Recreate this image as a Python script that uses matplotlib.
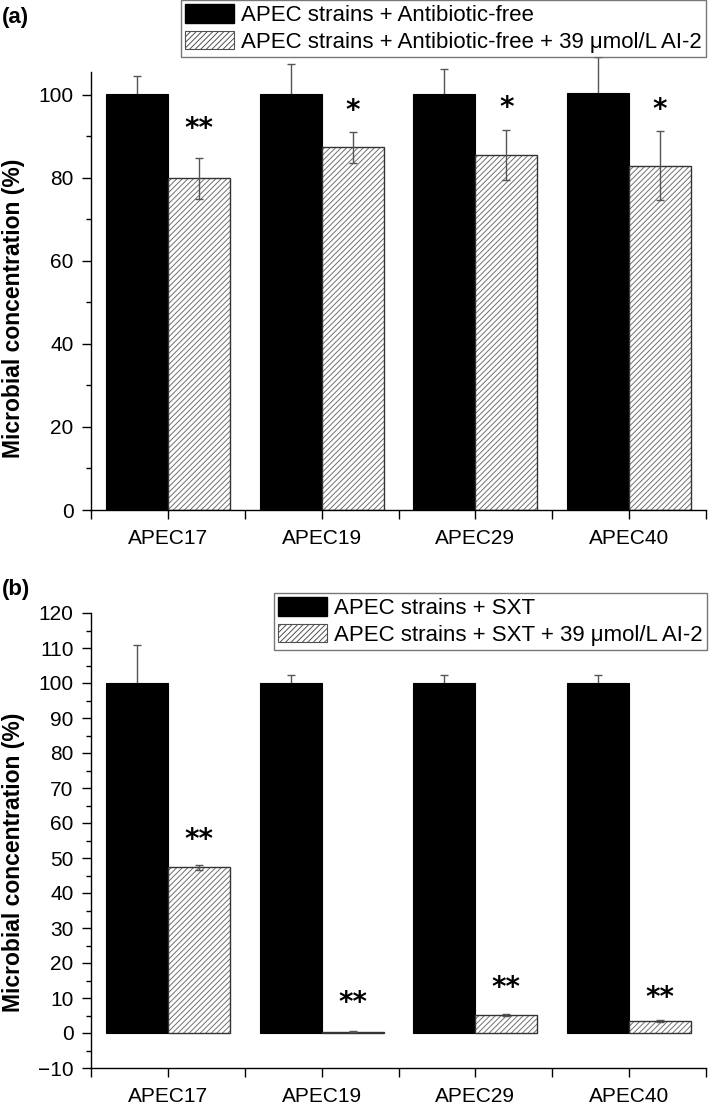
import numpy as np
import matplotlib
matplotlib.use("Agg")
import matplotlib.pyplot as plt
from matplotlib.patches import Patch

plt.rcParams['font.family'] = ['Liberation Sans', 'DejaVu Sans']
plt.rcParams['hatch.linewidth'] = 0.7

STRAINS = ["APEC17", "APEC19", "APEC29", "APEC40"]

# panel (a): antibiotic-free
A_CTRL = [100.3, 100.1, 100.2, 100.4]
A_CTRL_ERR = [4.2, 7.3, 6.1, 8.6]
A_AI2 = [79.9, 87.4, 85.6, 82.9]
A_AI2_ERR = [5.0, 3.7, 6.0, 8.3]
A_STARS = ["**", "*", "*", "*"]
A_LABELS = ["APEC strains + Antibiotic-free",
            "APEC strains + Antibiotic-free + 39 \u03bcmol/L AI-2"]

# panel (b): SXT
B_CTRL = [100.0, 100.0, 100.0, 100.0]
B_CTRL_ERR = [10.9, 2.2, 2.2, 2.2]
B_AI2 = [47.3, 0.4, 5.2, 3.4]
B_AI2_ERR = [0.7, 0.1, 0.3, 0.3]
B_STARS = ["**", "**", "**", "**"]
B_LABELS = ["APEC strains + SXT",
            "APEC strains + SXT + 39 \u03bcmol/L AI-2"]

W, H = 709, 1105
BAR_W = 0.404
ERR_COLOR = "#555555"
HATCH = "//////"
HATCH_COLOR = "#707070"
EDGE = "#333333"


def draw_panel(ax, ctrl, ctrl_err, ai2, ai2_err, stars, star_y, ylim, major, minor):
    x = np.arange(len(STRAINS))
    ax.bar(x - BAR_W / 2, ctrl, BAR_W, color="black", edgecolor="black", lw=0.8, zorder=2)
    # hatch drawn in a lighter grey, outline drawn on top in dark grey
    ax.bar(x + BAR_W / 2, ai2, BAR_W, color="white", edgecolor=HATCH_COLOR,
           hatch=HATCH, lw=0, zorder=2)
    ax.bar(x + BAR_W / 2, ai2, BAR_W, fill=False, edgecolor=EDGE, lw=1.0, zorder=2.1)
    # control error bars sit behind the black bars, so only the upper half shows
    eb1 = ax.errorbar(x - BAR_W / 2, ctrl, yerr=ctrl_err, fmt="none", ecolor=ERR_COLOR,
                      elinewidth=1.0, capsize=3, capthick=1.0, zorder=1)
    eb2 = ax.errorbar(x + BAR_W / 2, ai2, yerr=ai2_err, fmt="none", ecolor=ERR_COLOR,
                      elinewidth=1.0, capsize=3, capthick=1.0, zorder=3)
    for eb in (eb1, eb2):
        for art in eb.lines[1] + eb.lines[2]:
            art.set_clip_on(False)
    for xi, s, sy in zip(x, stars, star_y):
        ax.text(xi + BAR_W / 2, sy, s, ha="center", va="center", fontsize=20,
                fontweight="bold", family="DejaVu Sans")

    ax.set_xlim(-0.5, len(STRAINS) - 0.5)
    ax.set_ylim(*ylim)
    ax.set_xticks(np.arange(-0.5, len(STRAINS), 0.5))
    ax.set_xticklabels(["" if i % 2 == 0 else STRAINS[i // 2]
                        for i in range(2 * len(STRAINS) + 1)])
    ax.set_yticks(np.arange(ylim[0], ylim[1] + 0.1, major))
    ax.set_yticks(np.arange(ylim[0], ylim[1] + 0.1, minor), minor=True)
    ax.tick_params(axis="both", which="major", direction="out", length=6.5, width=1,
                   labelsize=15)
    ax.tick_params(axis="y", which="major", pad=6)
    ax.tick_params(axis="x", which="major", pad=7)
    ax.tick_params(axis="y", which="minor", direction="out", length=3.5, width=1)
    for side in ["top", "right"]:
        ax.spines[side].set_visible(False)
    for side in ["left", "bottom"]:
        ax.spines[side].set_linewidth(1)


fig = plt.figure(figsize=(W / 100, H / 100), dpi=100)
left, width = 91 / W, 615 / W

ax_a = fig.add_axes([left, 1 - 510 / H, width, 438 / H])
draw_panel(ax_a, A_CTRL, A_CTRL_ERR, A_AI2, A_AI2_ERR, A_STARS,
           [91.8, 96.0, 96.8, 96.4], (0, 105.5), 20, 10)
ax_a.set_yticks(np.arange(0, 101, 20))
ax_a.set_yticks(np.arange(0, 106, 10), minor=True)

ax_b = fig.add_axes([left, 1 - 1068 / H, width, 455 / H])
draw_panel(ax_b, B_CTRL, B_CTRL_ERR, B_AI2, B_AI2_ERR, B_STARS,
           [55.1, 8.7, 12.9, 10.0], (-10, 120), 10, 5)

legend_kw = dict(frameon=True, fancybox=False, edgecolor="#555555", fontsize=16,
                 handlelength=2.2, handleheight=0.9, handletextpad=0.3,
                 labelspacing=0.2, borderpad=0.2, borderaxespad=0)
handles = [Patch(facecolor="black", edgecolor="black"),
           Patch(facecolor="white", edgecolor="#505050", hatch=HATCH, lw=0.8)]
leg_a = fig.legend(handles, A_LABELS, loc="upper right",
                   bbox_to_anchor=(706 / W, 1.0), bbox_transform=fig.transFigure, **legend_kw)
leg_b = fig.legend(handles, B_LABELS, loc="upper right",
                   bbox_to_anchor=(707 / W, 1 - 593 / H), bbox_transform=fig.transFigure,
                   **legend_kw)
for leg in (leg_a, leg_b):
    leg.get_frame().set_linewidth(1.0)

fig.text(2 / W, 1 - 17 / H, "(a)", fontsize=16, fontweight="bold", va="center")
fig.text(2 / W, 1 - 589 / H, "(b)", fontsize=16, fontweight="bold", va="center")
fig.text(14 / W, 1 - 308 / H, "Microbial concentration (%)", rotation=90,
         fontsize=16.5, fontweight="bold", ha="center", va="center")
fig.text(14 / W, 1 - 862 / H, "Microbial concentration (%)", rotation=90,
         fontsize=16.5, fontweight="bold", ha="center", va="center")

fig.savefig("out.png", dpi=100)
